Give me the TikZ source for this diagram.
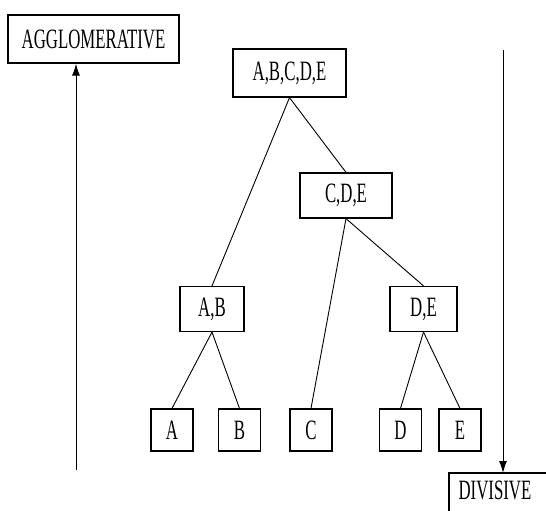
\documentclass[tikz,border=0pt]{standalone}
\usepackage{fontspec}
\setmainfont{Liberation Serif}[FakeStretch=0.6]
\usepackage{tikz}
\usetikzlibrary{positioning, arrows.meta}
\tikzstyle{block} = [rectangle, draw, fill=white, line width=1.2pt,
                 font=\fontsize{28}{32}\selectfont, inner sep=0pt]
\tikzstyle{branch} = [line width=0.9pt, draw]
\tikzset{
	leaf/.style={block, minimum width=42pt, minimum height=42pt},
	cluster/.style={block, minimum height=45pt},
	flow/.style={line width=1pt, -{Latex[length=12pt, width=8pt]}},
}

\begin{document}
\begin{tikzpicture}[x=1pt, y=-1pt]
\useasboundingbox (0,0) rectangle (546,511);

\node [block, minimum width=171pt, minimum height=48pt] at (93.5,39) (agglo) {AGGLOMERATIVE};
\coordinate (aggstart) at (76,470);
\draw [flow] (aggstart) -- (aggstart |- agglo.south);

\node [font=\fontsize{28}{32}\selectfont, inner sep=0pt] at (495,490) (divisive) {DIVISIVE};
\coordinate (divstart) at (503,50);
\coordinate (divcorner) at (449,473);
\draw [line width=1.2pt] (449,530) -- (divcorner) -- (560,473);
\draw [flow] (divstart) -- (divstart |- divcorner);

\node [cluster, minimum width=113pt, minimum height=48pt] at (289.5,73) (abcde) {A,B,C,D,E};
\node [cluster, minimum width=92pt] at (346,195.5) (cde) {C,D,E};
\node [cluster, minimum width=64pt] at (212,309) (ab) {A,B};
\node [cluster, minimum width=67pt] at (423.5,309) (de) {D,E};

\node [leaf] at (172,430) (a) {A};
\node [leaf] at (239.5,430) (b) {B};
\node [leaf] at (311,430) (c) {C};
\node [leaf] at (400.5,430) (d) {D};
\node [leaf] at (460,430) (e) {E};

\path [branch] (abcde.south) -- (ab.north);
\path [branch] (abcde.south) -- (cde.north);
\path [branch] (cde.south) -- (c.north);
\path [branch] (cde.south) -- (de.north);
\path [branch] (ab.south) -- (a.north);
\path [branch] (ab.south) -- (b.north);
\path [branch] (de.south) -- (d.north);
\path [branch] (de.south) -- (e.north);

\end{tikzpicture}
\end{document}
